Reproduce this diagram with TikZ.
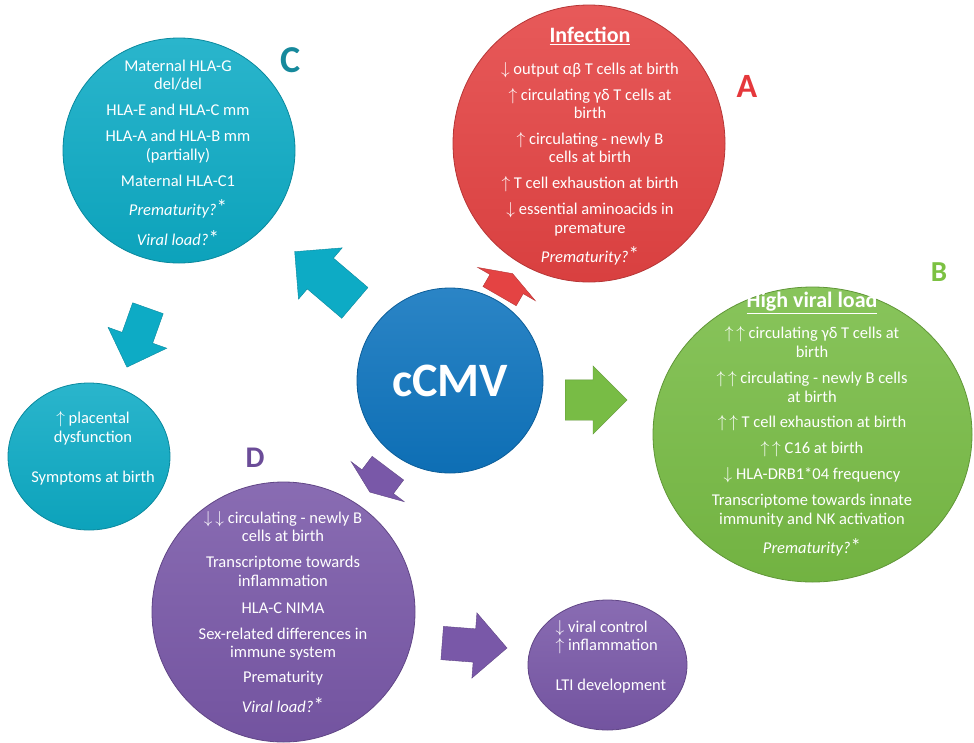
\documentclass[tikz,border=0pt]{standalone}
\usepackage{fontspec}
\setmainfont{Carlito}
\usetikzlibrary{shapes.geometric,shapes.arrows}

\definecolor{cmvblue}{HTML}{0E74BE}
\definecolor{cmvcyan}{HTML}{0DABC5}
\definecolor{cmvred}{HTML}{E44343}
\definecolor{cmvgreen}{HTML}{78BC45}
\definecolor{cmvpurple}{HTML}{7958A8}
\definecolor{tagcyan}{HTML}{16899C}
\definecolor{tagred}{HTML}{E5383C}
\definecolor{taggreen}{HTML}{7CC142}
\definecolor{tagpurple}{HTML}{6B4C98}
\newcommand{\starmark}{\raisebox{0.5pt}{\fontsize{21}{21}\selectfont*}}

\begin{document}
\begin{tikzpicture}[
	x=1pt,y=-1pt,
	bubble/.style={ellipse,inner sep=0pt,draw=#1!80!black,line width=0.8pt,top color=#1!88!white,bottom color=#1!95!black},
	bubbletext/.style={text=white,align=center,font=\fontsize{16.5}{18.5}\selectfont},
	tag/.style 2 args={text=#1,font=\bfseries\fontsize{#2}{#2}\selectfont},
	blockarrow/.style n args={3}{single arrow,anchor=tail,inner xsep=0pt,inner ysep=#2/2,
		single arrow head extend=(#3-#2)/2,minimum width=#3,minimum height=#1},
	]
	\useasboundingbox (0,0) rectangle (974,742);
	\node[bubble=cmvred,minimum width=272pt,minimum height=277pt] (infA) at (589,143.5) {};
	\node[bubble=cmvgreen,minimum width=319pt,minimum height=295pt] (highB) at (812.5,434.5) {};
	\node[bubble=cmvcyan,minimum width=232pt,minimum height=225pt] (hlaC) at (179,150.5) {};
	\node[bubble=cmvcyan,minimum width=162pt,minimum height=147pt] (symC) at (89,456.5) {};
	\node[bubble=cmvpurple,minimum width=263pt,minimum height=260pt] (riskD) at (283.5,612) {};
	\node[bubble=cmvpurple,minimum width=159pt,minimum height=130pt] (outD) at (607.5,665) {};
	\node[bubble=cmvblue,minimum width=186pt,minimum height=185pt,text=white,
		font=\bfseries\fontsize{48}{48}\selectfont] (cmv) at (450,380.5) {cCMV};

	\node[blockarrow={79pt}{40pt}{67pt},fill=cmvcyan,draw=cmvcyan!80!black,rotate=139.6] (toC) at (355,303) {};
	\node[blockarrow={26pt}{38pt}{66pt},single arrow tip angle=140,fill=cmvred,draw=cmvred!80!black,rotate=60] (toA) at (499.5,296.3) {};
	\node[blockarrow={62pt}{40pt}{68pt},fill=cmvgreen,draw=cmvgreen!80!black] (toB) at (565,400) {};
	\node[blockarrow={30pt}{39pt}{66pt},single arrow tip angle=137,fill=cmvpurple,draw=cmvpurple!80!black,rotate=233] (toD) at (388,468) {};
	\node[blockarrow={62.6pt}{32pt}{62pt},fill=cmvcyan,draw=cmvcyan!80!black,rotate=-109.6] (toSym) at (148,308) {};
	\node[blockarrow={65pt}{33pt}{65pt},fill=cmvpurple,draw=cmvpurple!80!black,rotate=-4.4] (toOut) at (442,643) {};

	\node[tag={tagcyan}{38}] (tagC) at (291,60) {C};
	\node[tag={tagred}{34}] (tagA) at (747,86) {A};
	\node[tag={taggreen}{29}] (tagB) at (939,272) {B};
	\node[tag={tagpurple}{30}] (tagD) at (255,457.5) {D};

	\node[bubbletext] (hlaCtext) at (178,153) {Maternal HLA-G\\del/del\\[7.5pt]
		HLA-E and HLA-C mm\\[7.5pt]
		HLA-A and HLA-B mm\\(partially)\\[7.5pt]
		Maternal HLA-C1\\[10.5pt]
		\textit{Prematurity?}\starmark\\[12pt]
		\textit{Viral load?}\starmark};
	\node[bubbletext] (infAtext) at (590,146) {\textbf{\underline{\fontsize{22}{22}\selectfont Infection}}\\[13.5pt]
		$\downarrow$ output αβ T cells at birth\\[7.5pt]
		$\uparrow$ circulating γδ T cells at\\birth\\[7pt]
		$\uparrow$ circulating - newly B\\cells at birth\\[7.5pt]
		$\uparrow$ T cell exhaustion at birth\\[7.5pt]
		$\downarrow$ essential aminoacids in\\premature\\[10.5pt]
		\textit{Prematurity?}\starmark};
	\node[bubbletext] (highBtext) at (812,424.5) {\textbf{\underline{\fontsize{22}{22}\selectfont High viral load}}\\[12.5pt]
		$\uparrow\,\uparrow$ circulating γδ T cells at\\birth\\[8pt]
		$\uparrow\,\uparrow$ circulating - newly B cells\\at birth\\[7pt]
		$\uparrow\,\uparrow$ T cell exhaustion at birth\\[7.5pt]
		$\uparrow\,\uparrow$ C16 at birth\\[7.5pt]
		$\downarrow$ HLA-DRB1*04 frequency\\[7.5pt]
		Transcriptome towards innate\\immunity and NK activation\\[11pt]
		\textit{Prematurity?}\starmark};
	\node[bubbletext] (riskDtext) at (283,612) {$\downarrow\,\downarrow$ circulating - newly B\\cells at birth\\[7.5pt]
		Transcriptome towards\\inflammation\\[8.5pt]
		HLA-C NIMA\\[7.5pt]
		Sex-related differences in\\immune system\\[6.5pt]
		Prematurity\\[11.5pt]
		\textit{Viral load?}\starmark};
	\node[bubbletext] (symCtext) at (93,448.5) {$\uparrow$ placental\\dysfunction\\[21.5pt]Symptoms at birth};
	\node[bubbletext,align=left] (outDtext) at (611,657) {$\downarrow$ viral control\\$\uparrow$ inflammation\\[21.5pt]LTI development};
\end{tikzpicture}
\end{document}
